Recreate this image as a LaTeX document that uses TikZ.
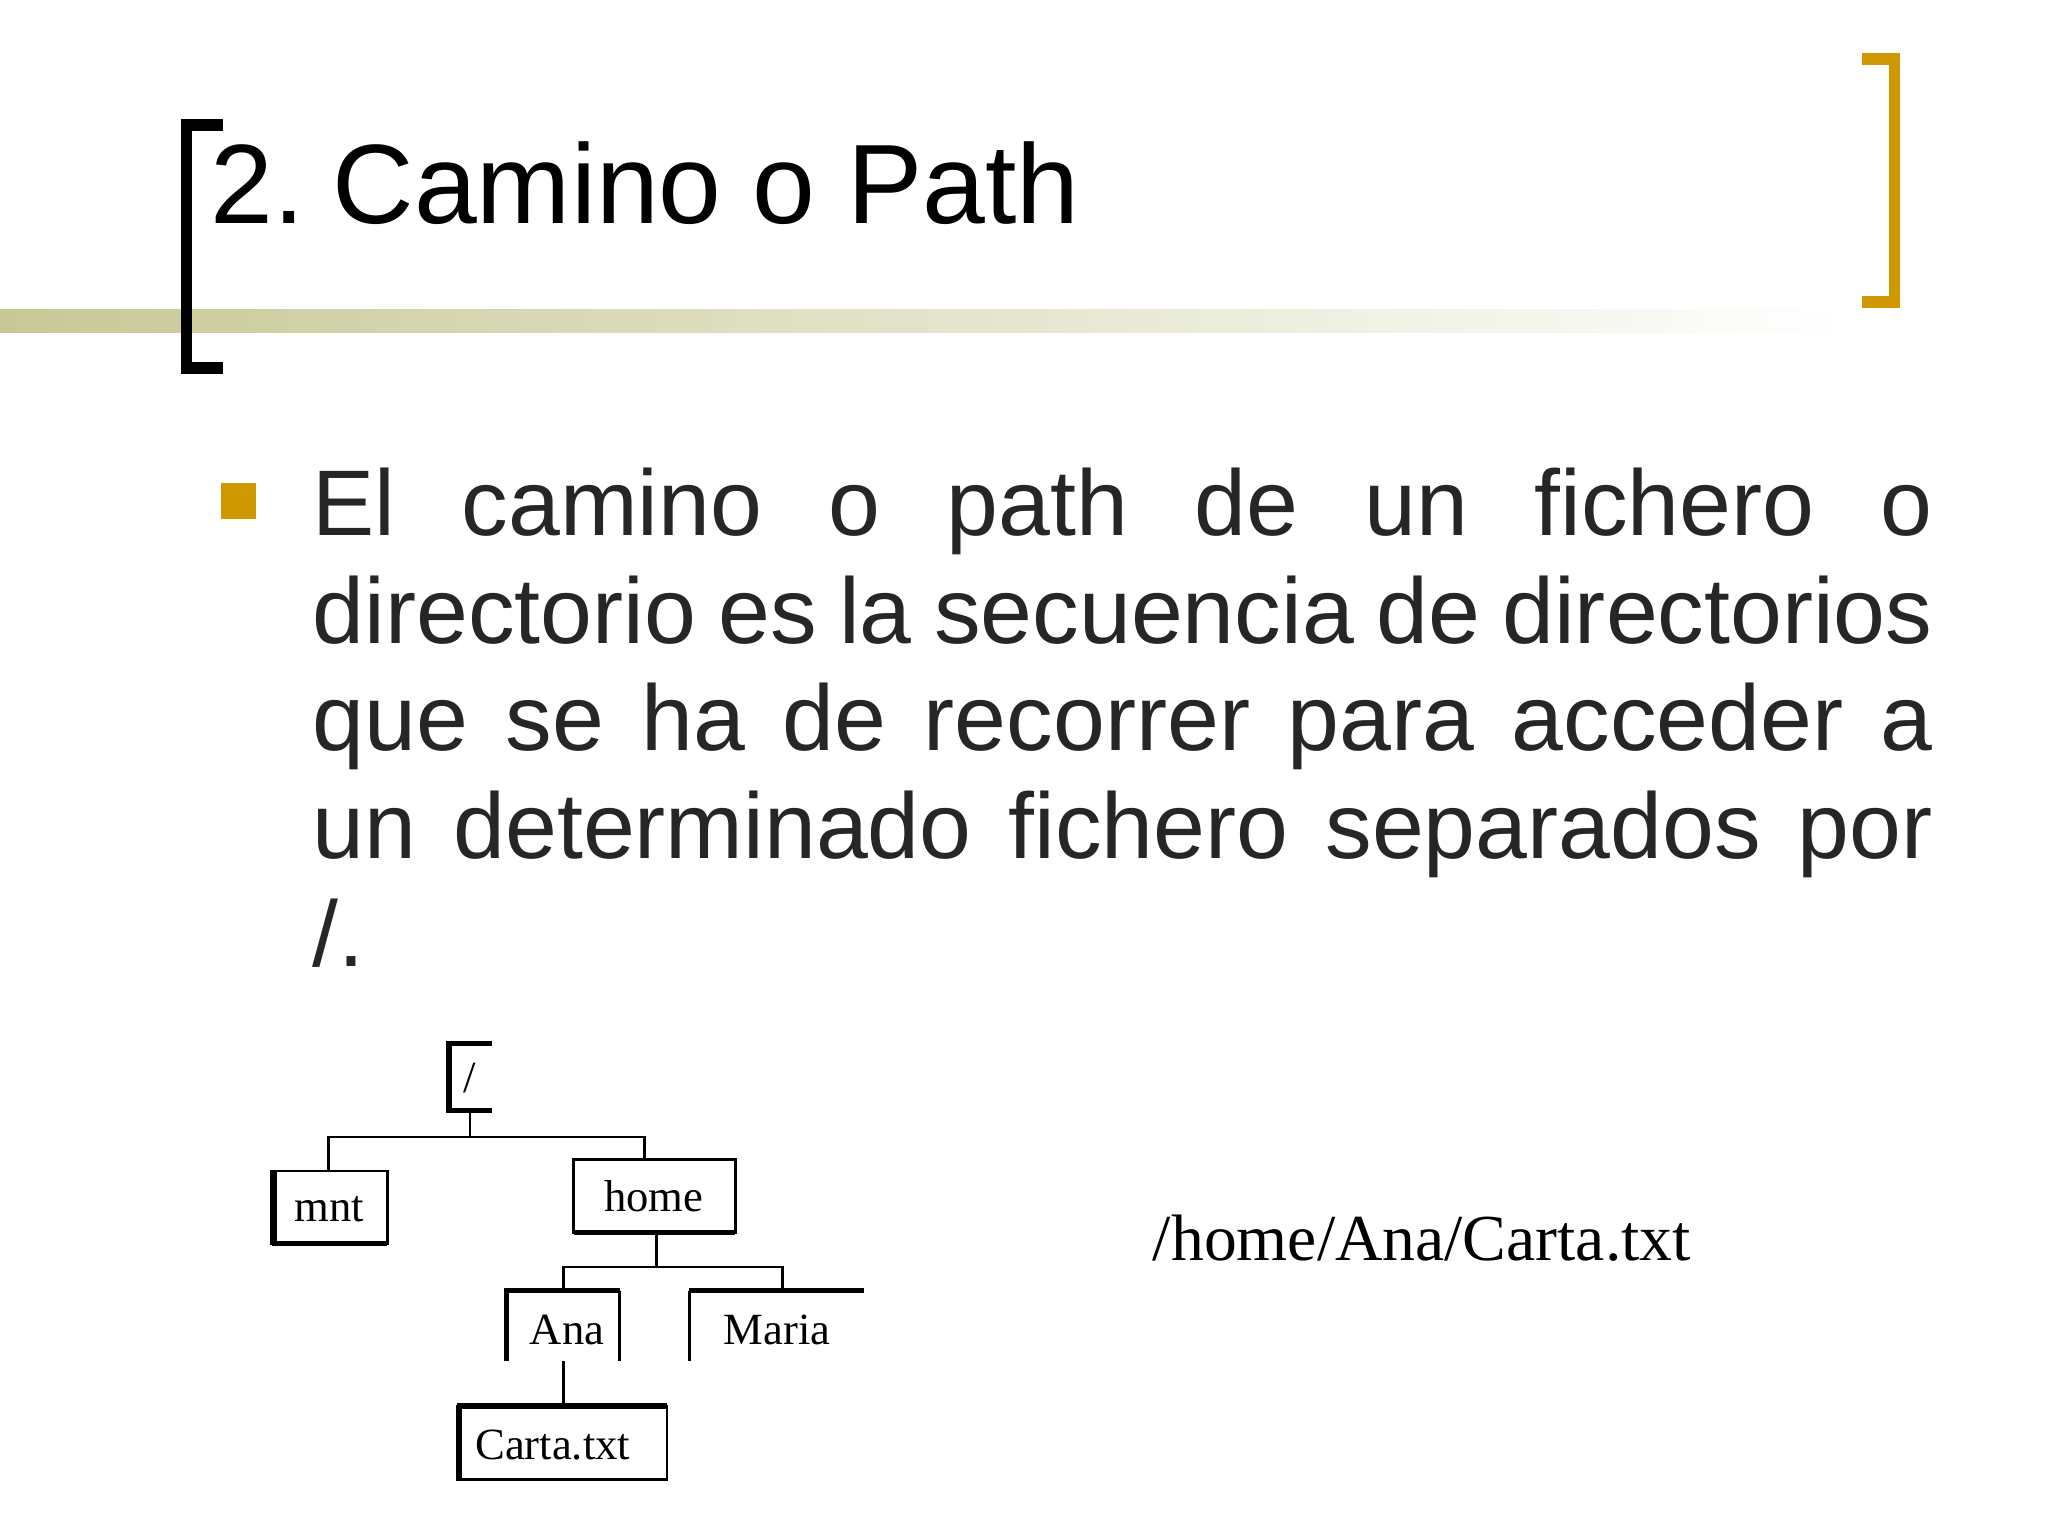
\documentclass[tikz,border=0pt]{standalone}
\usepackage{fontspec}
\setmainfont{Liberation Sans}
\newfontfamily\serifx{Liberation Serif}
\newcommand{\jl}[1]{\makebox[1234pt][s]{#1}}
\begin{document}
\begin{tikzpicture}[x=1pt,y=-1pt,
  tx/.style={inner sep=0pt,font=\serifx\fontsize{34}{36}\selectfont},
  ln/.style={line width=2pt},
  th/.style={line width=4pt}]
\useasboundingbox (0,0) rectangle (1560,1170);
\fill[white] (0,0) rectangle (1560,1170);
\definecolor{olv}{RGB}{200,200,150}
\definecolor{gold}{RGB}{208,152,0}
\shade[left color=olv,right color=white] (0,236) rectangle (1410,253);
% brackets
\draw[line width=9pt,black] (170,95) -- (142,95) -- (142,280) -- (170,280);
\draw[line width=9pt,gold] (1418,45) -- (1443,45) -- (1443,230) -- (1418,230);
\node[anchor=base west,inner sep=0pt,font=\fontsize{86}{90}\selectfont] (title) at (160,170) {2.\kern0.25em Camino o Path};
\fill[gold] (168,368) rectangle (195,395) node (bul) {};
\node[anchor=base west,inner sep=0pt,align=left,text=black!85,
  font=\fontsize{71}{82}\selectfont] (body) at (238,736)
  {\jl{El camino o path de un fichero o}\\
   \jl{directorio es la secuencia de directorios}\\
   \jl{que se ha de recorrer para acceder a}\\
   \jl{un determinado fichero separados por}\\
   /.};
% tree
\node[tx] (root) at (358,821) {/};
\draw[th] (375,795) -- (342,795) -- (342,846) -- (375,846);
\node[tx] (mnt) at (251,921) {mnt};
\draw[ln] (207,892) rectangle (295,947);
\draw[th] (209,892) -- (209,947) -- (295,947);
\node[tx] (home) at (498,911) {home};
\draw[ln] (437,883) rectangle (560,939);
\draw[th] (437,939) -- (560,939);
\node[tx] (ana) at (432,1013) {Ana};
\draw[th] (472,983) -- (386,983) -- (386,1037);
\draw[ln] (472,983) -- (472,1037);
\node[tx] (maria) at (592,1013) {Maria};
\draw[th] (658,983) -- (525,983);
\draw[ln] (525,983) -- (525,1037);
\node[tx] (carta) at (421,1101) {Carta.txt};
\draw[ln] (348,1071) rectangle (508,1127);
\draw[th] (348,1071) -- (508,1071);
\draw[th] (350,1071) -- (350,1127);
% connectors
\coordinate (j1) at (358,866);
\coordinate (j2) at (500,965);
\draw[ln] (358,848) -- (j1);
\draw[ln] (250,892) -- (250,866) -- (491,866) -- (491,883);
\draw[ln] (500,939) -- (j2);
\draw[ln] (429,983) -- (429,965) -- (596,965) -- (596,983);
\draw[ln] (429,1037) -- (429,1071);
\node[anchor=base west,inner sep=0pt,font=\serifx\fontsize{50}{52}\selectfont] (path) at (878,960) {/home/Ana/Carta.txt};
\end{tikzpicture}
\end{document}
